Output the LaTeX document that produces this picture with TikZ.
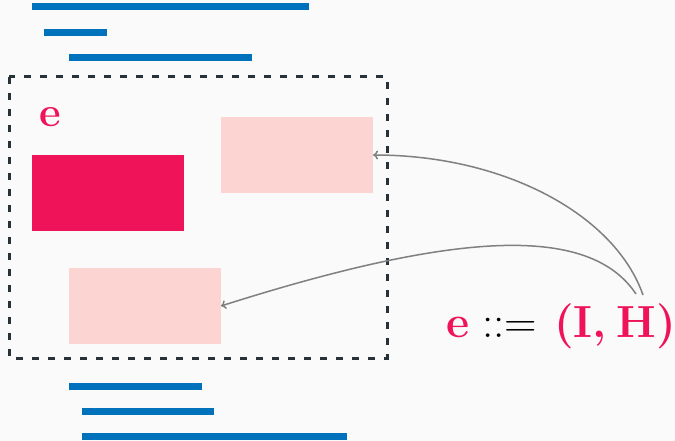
\documentclass[tikz,border=0pt]{standalone}
\usepackage{fontspec}
\usetikzlibrary{arrows.meta}
\definecolor{bg}{HTML}{FAFAFA}
\definecolor{barblue}{HTML}{0072BC}
\definecolor{hot}{HTML}{EF1459}
\definecolor{soft}{HTML}{FCD5D3}
\definecolor{frame}{HTML}{263238}
\definecolor{wire}{HTML}{808080}
\tikzset{
  bar/.style={draw=barblue, line width=7pt},
  blk/.style={inner sep=0pt, outer sep=0pt, minimum width=152pt, minimum height=76pt},
  frm/.style={draw=frame, line width=3pt, dash pattern=on 7pt off 9pt},
  link/.style={draw=wire, line width=1.5pt, -{To[length=5pt,width=9pt]}},
  big/.style={font=\fontsize{42}{48}\selectfont, inner sep=0pt},
  bigger/.style={font=\fontsize{45}{52}\selectfont, inner sep=0pt}
}
\begin{document}
\begin{tikzpicture}[x=1pt, y=-1pt]
  \fill[bg] (0,0) rectangle (675,441);
  \useasboundingbox (0,0) rectangle (675,441);
  % code lines above
  \draw[bar] (32,7) -- (309,7);
  \draw[bar] (44,33) -- (107,33);
  \draw[bar] (69,58) -- (252,58);
  % code lines below
  \draw[bar] (69,386) -- (202,386);
  \draw[bar] (82,411) -- (214,411);
  \draw[bar] (82,436) -- (347,436);
  % frame of e
  \draw[frm] (9,77) rectangle (387,358);
  \node[big, text=hot, anchor=base west] (elab) at (39,127) {\bfseries e};
  \node[blk, fill=hot, anchor=north west] (core) at (32,155) {};
  \node[blk, fill=soft, anchor=north west] (ii) at (221,117) {};
  \node[blk, fill=soft, anchor=north west] (hh) at (69,268) {};
  % definition
  \node[bigger, anchor=base west] (def) at (446,337)
    {\textcolor{hot}{\bfseries e}\hspace{13pt}::=\hspace{17pt}\textcolor{hot}{\bfseries (I,\hspace{10pt}H)}};
  \coordinate (s1) at (643,295);
  \coordinate (s2) at (636,294);
  \draw[link] (s1) .. controls (615,215) and (505,155) .. (ii.east);
  \draw[link] (s2) .. controls (590,225) and (460,230) .. (hh.east);
\end{tikzpicture}
\end{document}
